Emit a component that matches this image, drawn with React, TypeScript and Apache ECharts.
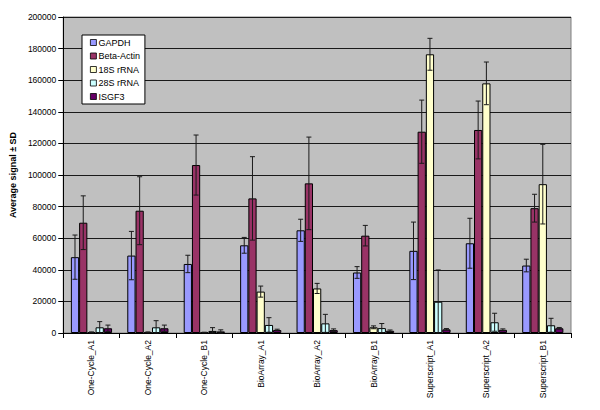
import React, { useEffect, useRef } from "react";
import * as echarts from "echarts";

const categories = [
  "One-Cycle_A1", "One-Cycle_A2", "One-Cycle_B1",
  "BioArray_A1", "BioArray_A2", "BioArray_B1",
  "Superscript_A1", "Superscript_A2", "Superscript_B1",
];
const seriesNames = ["GAPDH", "Beta-Actin", "18S rRNA", "28S rRNA", "ISGF3"];
const seriesColors = ["#9999FF", "#993366", "#FFFFCC", "#CCFFFF", "#660066"];

const gapdh = [48000, 49000, 43700, 55500, 65000, 38300, 52000, 56800, 42700];
const gapdhSd = [14000, 15300, 5500, 5000, 7000, 3700, 18200, 15800, 4000];
const actin = [69800, 77400, 106300, 85200, 94700, 61600, 127400, 128500, 79000];
const actinSd = [17000, 21500, 19000, 26400, 29300, 6500, 20000, 18300, 8800];
const rna18 = [400, 400, 300, 26200, 28200, 3600, 176400, 158000, 94200];
const rna18Sd = [300, 300, 200, 3500, 3200, 900, 10100, 13500, 25200];
const rna28 = [3600, 3600, 1300, 5100, 6100, 3100, 19800, 6800, 4900];
const rna28Sd = [3600, 4200, 2100, 4600, 5700, 2900, 20100, 5700, 4400];
const isgf3 = [3000, 3000, 1000, 1900, 1800, 1400, 2300, 2000, 3000];
const isgf3Sd = [2000, 2000, 1000, 500, 800, 500, 500, 600, 500];

const yTicks = { min: 0, max: 200000, interval: 20000 };

const values = [gapdh, actin, rna18, rna28, isgf3];
const sds = [gapdhSd, actinSd, rna18Sd, rna28Sd, isgf3Sd];

const CAT_GAP = 0.27;
const FONT = "Liberation Sans, Arial, sans-serif";

export default function App() {
  const ref = useRef<HTMLDivElement>(null);
  useEffect(() => {
    if (!ref.current) return;
    const chart = echarts.init(ref.current, undefined, { renderer: "svg" });
    const n = seriesNames.length;
    const barSeries = seriesNames.map((name, i) => ({
      name,
      type: "bar",
      data: values[i],
      barGap: "0%",
      barCategoryGap: `${CAT_GAP * 100}%`,
      itemStyle: { color: seriesColors[i], borderColor: "#000", borderWidth: 1 },
      z: 2,
    }));
    const errSeries = seriesNames.map((name, i) => ({
      name: name + " SD",
      type: "custom",
      z: 3,
      data: values[i].map((v, k) => [k, v, sds[i][k]]),
      encode: { x: 0, y: 1 },
      renderItem: (params: any, api: any) => {
        const k = api.value(0);
        const v = api.value(1);
        const sd = api.value(2);
        const band = api.size([1, 0])[0];
        const inner = band * (1 - CAT_GAP);
        const bw = inner / n;
        const cx = api.coord([k, 0])[0];
        const x = cx - inner / 2 + bw * (i + 0.5);
        const yT = api.coord([k, v + sd])[1];
        const yB = api.coord([k, Math.max(0, v - sd)])[1];
        const cap = 2.5;
        const style = { stroke: "#1a1a1a", lineWidth: 1 };
        return {
          type: "group",
          children: [
            { type: "line", shape: { x1: x, y1: yT, x2: x, y2: yB }, style },
            { type: "line", shape: { x1: x - cap, y1: yT, x2: x + cap, y2: yT }, style },
            { type: "line", shape: { x1: x - cap, y1: yB, x2: x + cap, y2: yB }, style },
          ],
        };
      },
    }));
    chart.setOption({
      animation: false,
      backgroundColor: "#ffffff",
      textStyle: { fontFamily: FONT },
      grid: {
        left: 61, right: 29, top: 17, bottom: 77,
        show: true, backgroundColor: "#C0C0C0", borderColor: "#808080", borderWidth: 1,
      },
      legend: {
        data: seriesNames,
        orient: "vertical",
        left: 82, top: 35,
        backgroundColor: "#ffffff",
        borderColor: "#000", borderWidth: 1,
        padding: [2, 5, 2, 8],
        itemWidth: 6, itemHeight: 6, itemGap: 2.5,
        icon: "rect",
        itemStyle: { borderColor: "#000", borderWidth: 0.8 },
        textStyle: { fontSize: 9, color: "#000", fontFamily: FONT, lineHeight: 11, padding: [0, 0, 0, -3] },
      },
      xAxis: {
        type: "category",
        data: categories,
        axisLine: { lineStyle: { color: "#000", width: 1 } },
        axisTick: { show: true, length: 5, lineStyle: { color: "#000" } },
        axisLabel: { rotate: 90, interval: 0, fontSize: 8.5, color: "#000", margin: 7, fontFamily: FONT },
      },
      yAxis: {
        type: "value",
        min: yTicks.min, max: yTicks.max, interval: yTicks.interval,
        name: "Average signal ± SD",
        nameLocation: "middle",
        nameGap: 44,
        nameTextStyle: { fontSize: 9, fontWeight: "bold", color: "#000", fontFamily: FONT },
        axisLine: { show: true, lineStyle: { color: "#000", width: 1 } },
        axisTick: { show: true, length: 5, lineStyle: { color: "#000" } },
        axisLabel: {
          fontSize: 8.5, color: "#000", margin: 7, fontFamily: FONT,
          formatter: (v: number) => String(v),
        },
        splitLine: { show: true, lineStyle: { color: "#1a1a1a", width: 1 } },
      },
      series: [...barSeries, ...errSeries],
    });
    return () => chart.dispose();
  }, []);
  return (
    <div
      ref={ref}
      style={{ position: "fixed", left: 0, top: 0, width: 600, height: 410, background: "#fff" }}
    />
  );
}
